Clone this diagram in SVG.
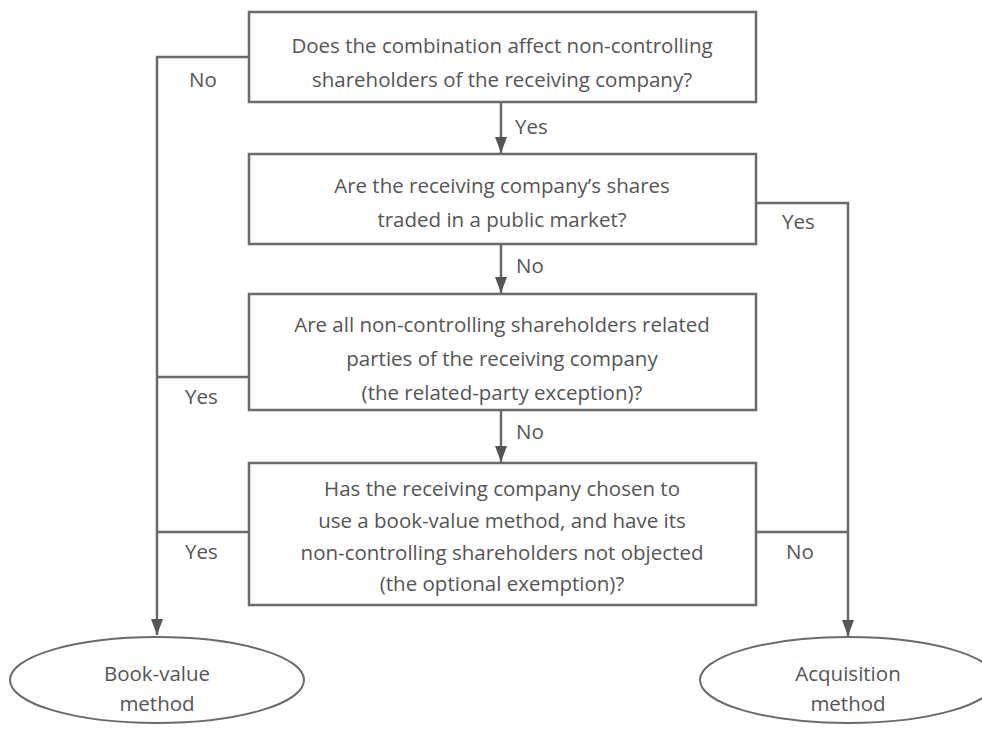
<svg xmlns="http://www.w3.org/2000/svg" width="982" height="729" viewBox="0 0 982 729">
<defs>
<marker id="arr" markerWidth="16" markerHeight="12" refX="16" refY="6" orient="auto" markerUnits="userSpaceOnUse" viewBox="0 0 16 12">
<path d="M0,0 L16,6 L0,12 Z" fill="#555"/>
</marker>
<style>
.box{fill:#fff;stroke:#6a6a6a;stroke-width:2.5}
.ell{fill:#fff;stroke:#6a6a6a;stroke-width:2}
.ln{fill:none;stroke:#6a6a6a;stroke-width:2.5}
.t{font-family:"Open Sans","Liberation Sans",sans-serif;font-size:20.5px;fill:#555;text-anchor:middle}
.lb{font-family:"Open Sans","Liberation Sans",sans-serif;font-size:20.5px;fill:#555}
</style>
</defs>
<rect width="982" height="729" fill="#fff"/>
<g id="connectors">
<path class="ln" d="M249,57 H157 V635" marker-end="url(#arr)"/>
<path class="ln" d="M249,377 H157"/>
<path class="ln" d="M249,532 H157"/>
<path class="ln" d="M756,203 H848 V636" marker-end="url(#arr)"/>
<path class="ln" d="M756,532 H848"/>
<path class="ln" d="M501,102 V153" marker-end="url(#arr)"/>
<path class="ln" d="M501,244 V293" marker-end="url(#arr)"/>
<path class="ln" d="M501,410 V462" marker-end="url(#arr)"/>
<text class="lb" x="515" y="134">Yes</text>
<text class="lb" x="516" y="273">No</text>
<text class="lb" x="516" y="439">No</text>
<text class="lb" x="189" y="87">No</text>
<text class="lb" x="185" y="404">Yes</text>
<text class="lb" x="185" y="559">Yes</text>
<text class="lb" x="782" y="229">Yes</text>
<text class="lb" x="786" y="559">No</text>
</g>
<g id="q1">
<rect class="box" x="249" y="12" width="507" height="90"/>
<text class="t" x="502" y="53">Does the combination affect non-controlling</text>
<text class="t" x="502" y="87">shareholders of the receiving company?</text>
</g>
<g id="q2">
<rect class="box" x="249" y="154" width="507" height="90"/>
<text class="t" x="502" y="193">Are the receiving company’s shares</text>
<text class="t" x="502" y="227">traded in a public market?</text>
</g>
<g id="q3">
<rect class="box" x="249" y="294" width="507" height="116"/>
<text class="t" x="502" y="332">Are all non-controlling shareholders related</text>
<text class="t" x="502" y="366">parties of the receiving company</text>
<text class="t" x="502" y="400">(the related-party exception)?</text>
</g>
<g id="q4">
<rect class="box" x="249" y="463" width="507" height="142"/>
<text class="t" x="502" y="496">Has the receiving company chosen to</text>
<text class="t" x="502" y="528">use a book-value method, and have its</text>
<text class="t" x="502" y="560">non-controlling shareholders not objected</text>
<text class="t" x="502" y="591">(the optional exemption)?</text>
</g>
<g id="bookvalue">
<ellipse class="ell" cx="157" cy="680" rx="147" ry="43"/>
<text class="t" x="157" y="681">Book-value</text>
<text class="t" x="157" y="711">method</text>
</g>
<g id="acquisition">
<ellipse class="ell" cx="848" cy="680" rx="148" ry="43"/>
<text class="t" x="848" y="681">Acquisition</text>
<text class="t" x="848" y="711">method</text>
</g>
</svg>
